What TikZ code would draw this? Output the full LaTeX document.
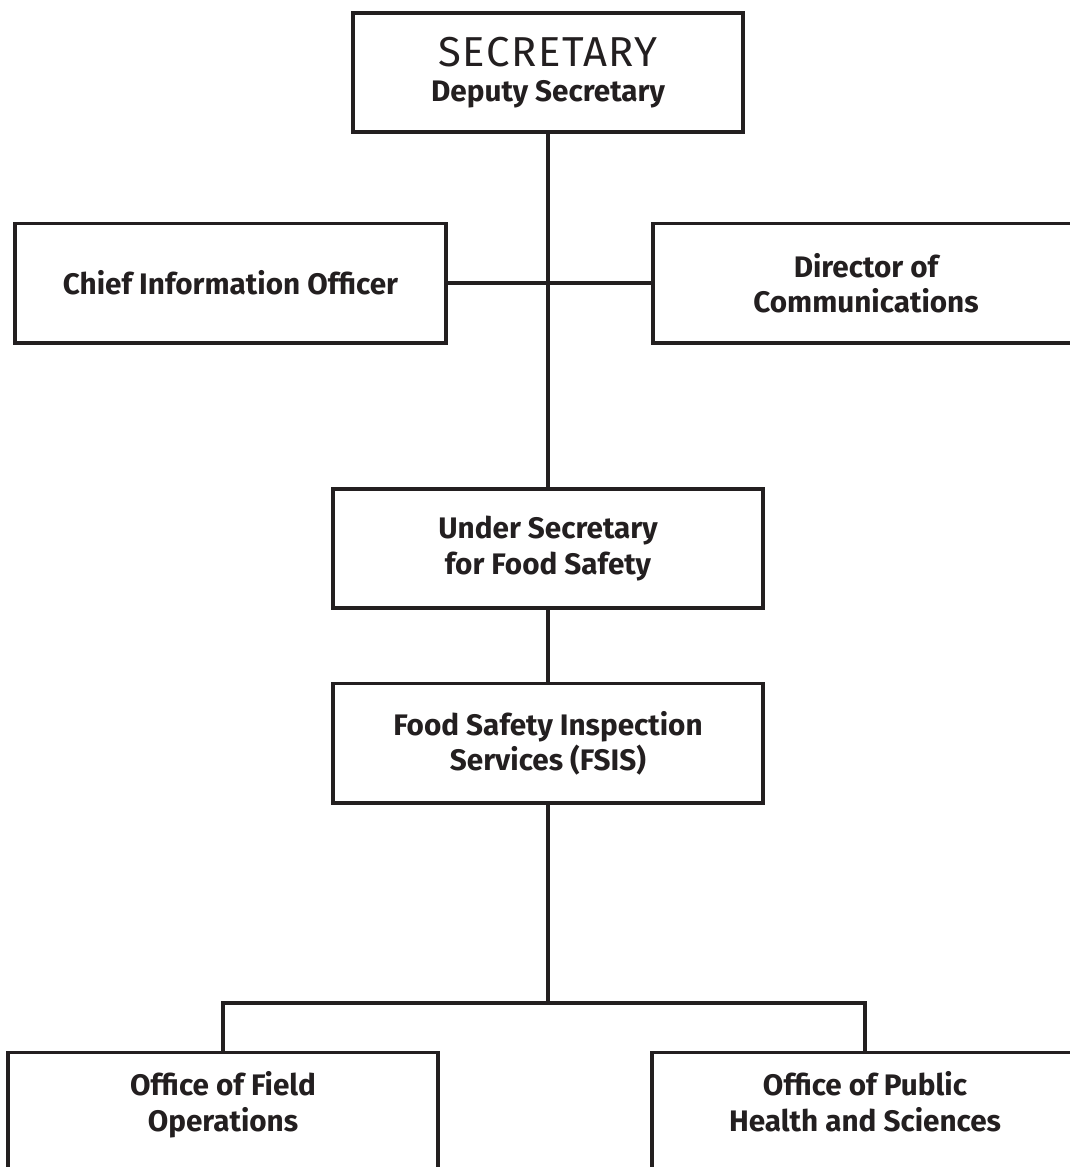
\documentclass[tikz,border=0pt]{standalone}
\usepackage{fontspec}
\setmainfont{Fira Sans}
\usepackage{tikz}
\usetikzlibrary{positioning}
\definecolor{ink}{HTML}{231F20}

\begin{document}
\begin{tikzpicture}[x=0.02cm, y=-0.02cm,
		office/.style={rectangle, draw=ink, line width=2pt, inner sep=0pt,
			minimum height=2.39cm, align=center, text=ink,
			font=\fontsize{16.9}{20}\selectfont\bfseries},
		link/.style={draw=ink, line width=2pt}]
	\useasboundingbox (0,0) rectangle (1070,1167);
	\clip (0,0) rectangle (1070,1167);

	\node[office, minimum width=7.8cm] (sec) at (548,72.5)
		{{\fontsize{23.8}{20}\selectfont\mdseries\addfontfeatures{LetterSpace=4}SECRETARY}\\[0pt] Deputy Secretary\rule[-0.1cm]{0pt}{0.1cm}};
	\node[office, minimum width=8.62cm] (cio) at (230.5,283) {Chief Information Officer};
	\node[office, minimum width=8.52cm] (doc) at (866,283) {Director of\\Communications};
	\node[office, minimum width=8.6cm] (usfs) at (548,548.5) {Under Secretary\\for Food Safety};
	\node[office, minimum width=8.6cm] (fsis) at (548,743) {Food Safety Inspection\\Services (FSIS)};
	\node[office, minimum width=8.6cm] (ofo) at (223,1112) {Office of Field\\Operations\rule[-0.42cm]{0pt}{0.42cm}};
	\node[office, minimum width=8.52cm] (ophs) at (865,1112) {Office of Public\\Health and Sciences\rule[-0.42cm]{0pt}{0.42cm}};

	\coordinate (bar) at (548,1003);

	\draw[link] (sec) -- (usfs);
	\draw[link] (cio) -- (doc);
	\draw[link] (usfs) -- (fsis);
	\draw[link] (fsis.south) -- (bar);
	\draw[link] (ofo.north) |- (bar) -| (ophs.north);
\end{tikzpicture}
\end{document}
